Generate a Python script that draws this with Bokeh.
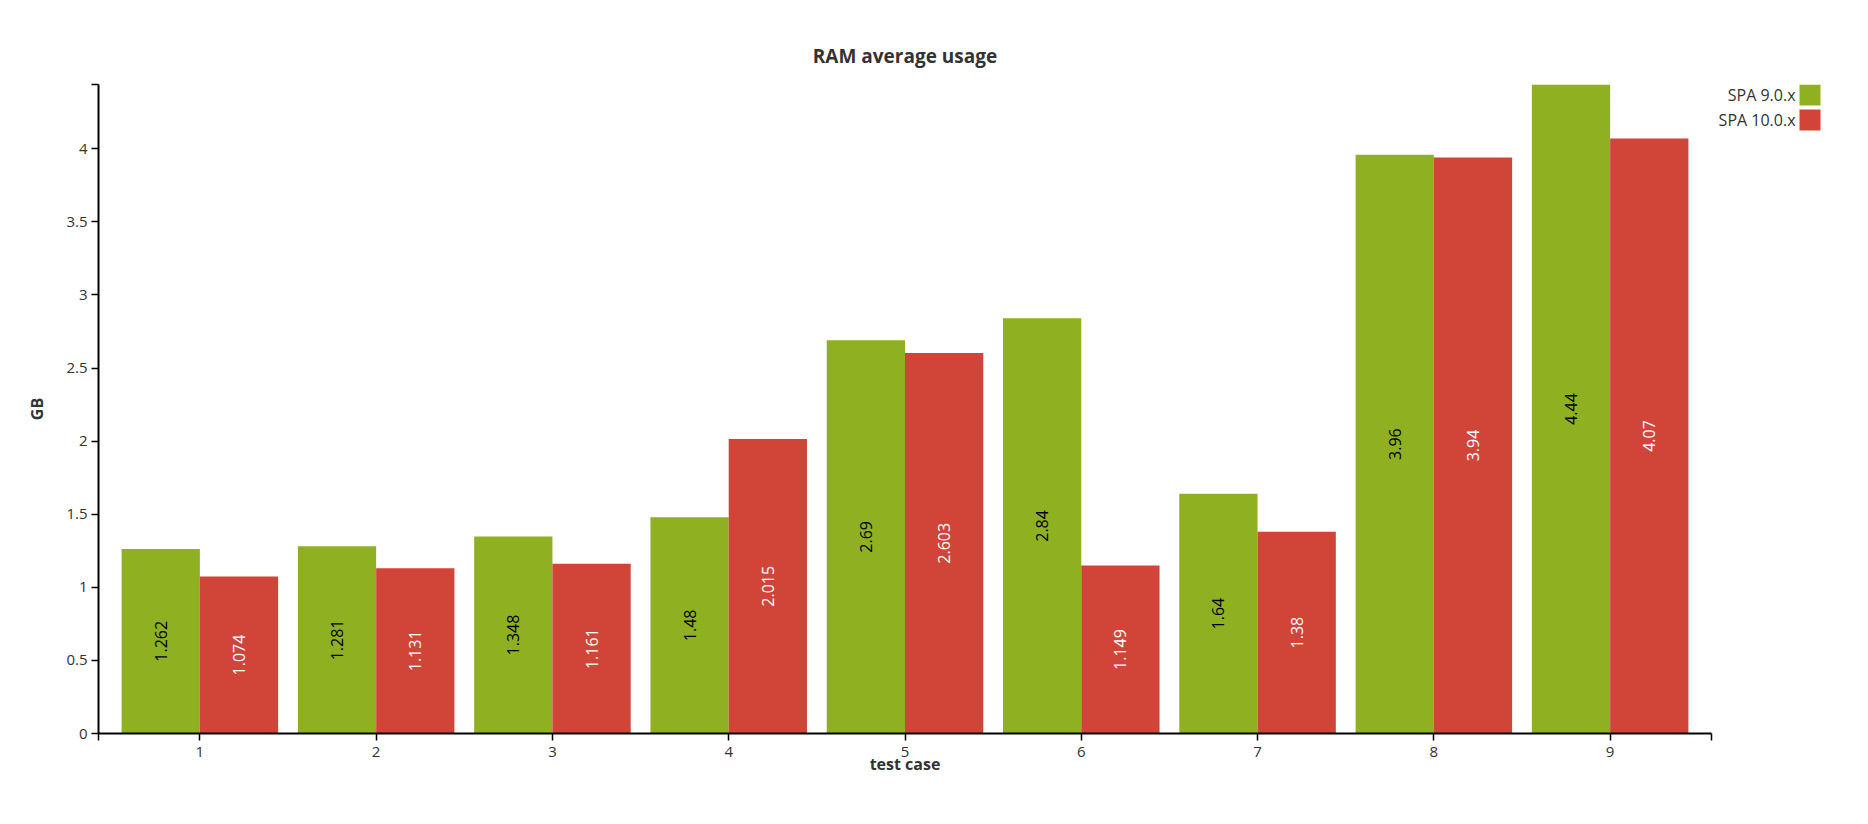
import numpy as np
from bokeh.plotting import figure
from bokeh.layouts import row
from bokeh.models import (ColumnDataSource, FixedTicker, CustomJSTickFormatter, Range1d)
from bokeh.transform import dodge
from bokeh.core.properties import value
from bokeh.embed import file_html
from bokeh.resources import INLINE

# ---- data ----
test_cases = [1, 2, 3, 4, 5, 6, 7, 8, 9]
spa9 = [1.262, 1.281, 1.348, 1.48, 2.69, 2.84, 1.64, 3.96, 4.44]
spa10 = [1.074, 1.131, 1.161, 2.015, 2.603, 1.149, 1.38, 3.94, 4.07]
series_names = ["SPA 9.0.x", "SPA 10.0.x"]
y_ticks = [0, 0.5, 1, 1.5, 2, 2.5, 3, 3.5, 4]
colors = ["#8eb021", "#d14539"]

FONT = "Open Sans"
TXT = "#333333"

# ---- layout constants (canvas px) ----
W_TOTAL, H = 1852, 808
W_MAIN = 1714
FL, FR, FT, FB = 98, 1711, 84, 733

pad = 0.575
x0, x1 = test_cases[0] - pad, test_cases[-1] + pad
ymax = max(spa9 + spa10)
bar_w = 0.444
off = bar_w / 2

src = ColumnDataSource(dict(
    x=test_cases,
    v9=spa9, v10=spa10,
    h9=[v / 2 for v in spa9], h10=[v / 2 for v in spa10],
    l9=[str(v) for v in spa9], l10=[str(v) for v in spa10],
))

p = figure(width=W_MAIN, height=H, output_backend="svg", toolbar_location=None,
           x_range=Range1d(x0, x1), y_range=Range1d(0, ymax),
           min_border_left=FL, min_border_right=W_MAIN - FR,
           min_border_top=FT, min_border_bottom=H - FB,
           title="RAM average usage")
p.background_fill_color = "white"
p.border_fill_color = "white"
p.outline_line_color = None
p.xgrid.visible = False
p.ygrid.visible = False

p.title.align = "center"
p.title.text_font = FONT
p.title.text_font_size = "19px"
p.title.text_font_style = "bold"
p.title.text_color = TXT
p.title.standoff = 32

p.vbar(x=dodge("x", -off, range=p.x_range), top="v9", width=bar_w, source=src,
       fill_color=colors[0], line_color=None)
p.vbar(x=dodge("x", off, range=p.x_range), top="v10", width=bar_w, source=src,
       fill_color=colors[1], line_color=None)

p.text(x=dodge("x", -off, range=p.x_range), y="h9", text="l9", source=src,
       angle=np.pi / 2, text_align="center", text_baseline="middle",
       text_color="black", text_font=value(FONT), text_font_size="16px")
p.text(x=dodge("x", off, range=p.x_range), y="h10", text="l10", source=src,
       angle=np.pi / 2, text_align="center", text_baseline="middle",
       text_color="white", text_font=value(FONT), text_font_size="16px")

# axes
hide_code = "return hide.some(h => Math.abs(h - tick) < 1e-6) ? '' : String(tick);"
p.xaxis.ticker = FixedTicker(ticks=[x0] + test_cases + [x1])
p.xaxis.formatter = CustomJSTickFormatter(args=dict(hide=[x0, x1]), code=hide_code)
p.yaxis.ticker = FixedTicker(ticks=y_ticks + [ymax])
p.yaxis.formatter = CustomJSTickFormatter(args=dict(hide=[ymax]), code=hide_code)

for ax in (p.xaxis, p.yaxis):
    ax.axis_line_color = "black"
    ax.axis_line_width = 2
    ax.major_tick_line_color = "black"
    ax.major_tick_line_width = 1.5
    ax.major_tick_out = 7
    ax.major_tick_in = 0
    ax.minor_tick_line_color = None
    ax.major_label_text_font = FONT
    ax.major_label_text_font_size = "15px"
    ax.major_label_text_color = TXT
    ax.axis_label_text_font = FONT
    ax.axis_label_text_font_size = "16px"
    ax.axis_label_text_font_style = "bold"
    ax.axis_label_text_color = TXT

p.xaxis.major_label_standoff = 6
p.xaxis.axis_label = "test case"
p.xaxis.axis_label_standoff = -7
p.yaxis.major_label_standoff = 4
p.yaxis.axis_label = "GB"
p.yaxis.axis_label_standoff = 15

# ---- legend panel to the right (text, then swatch) ----
# Its frame is aligned with the main plot's frame (FT..FB), so pixel rows map 1:1.
LW = W_TOTAL - W_MAIN
lg = figure(width=LW, height=H, output_backend="svg", toolbar_location=None,
            x_range=Range1d(0, LW), y_range=Range1d(FB, FT),
            x_axis_type=None, y_axis_type=None,
            min_border=0, min_border_left=0, min_border_right=0,
            min_border_top=0, min_border_bottom=0)
lg.outline_line_color = None
lg.xgrid.visible = False
lg.ygrid.visible = False
lg.background_fill_color = "white"
lg.border_fill_color = "white"

sw_left = 1799 - W_MAIN
sw_size_x = 21
row_tops = [84, 109]
sw_size_y = 21
lsrc = ColumnDataSource(dict(
    name=series_names, color=colors,
    left=[sw_left] * 2, right=[sw_left + sw_size_x] * 2,
    top=row_tops, bottom=[t + sw_size_y for t in row_tops],
    tx=[sw_left - 4] * 2, ty=[t + sw_size_y / 2 for t in row_tops],
))
lg.quad(left="left", right="right", top="top", bottom="bottom",
        fill_color="color", line_color=None, source=lsrc)
lg.text(x="tx", y="ty", text="name", source=lsrc, text_align="right",
        text_baseline="middle", text_color=TXT, text_font=value(FONT),
        text_font_size="16px")

layout = row(p, lg, spacing=0)
open("out.html", "w").write(file_html(layout, INLINE))
